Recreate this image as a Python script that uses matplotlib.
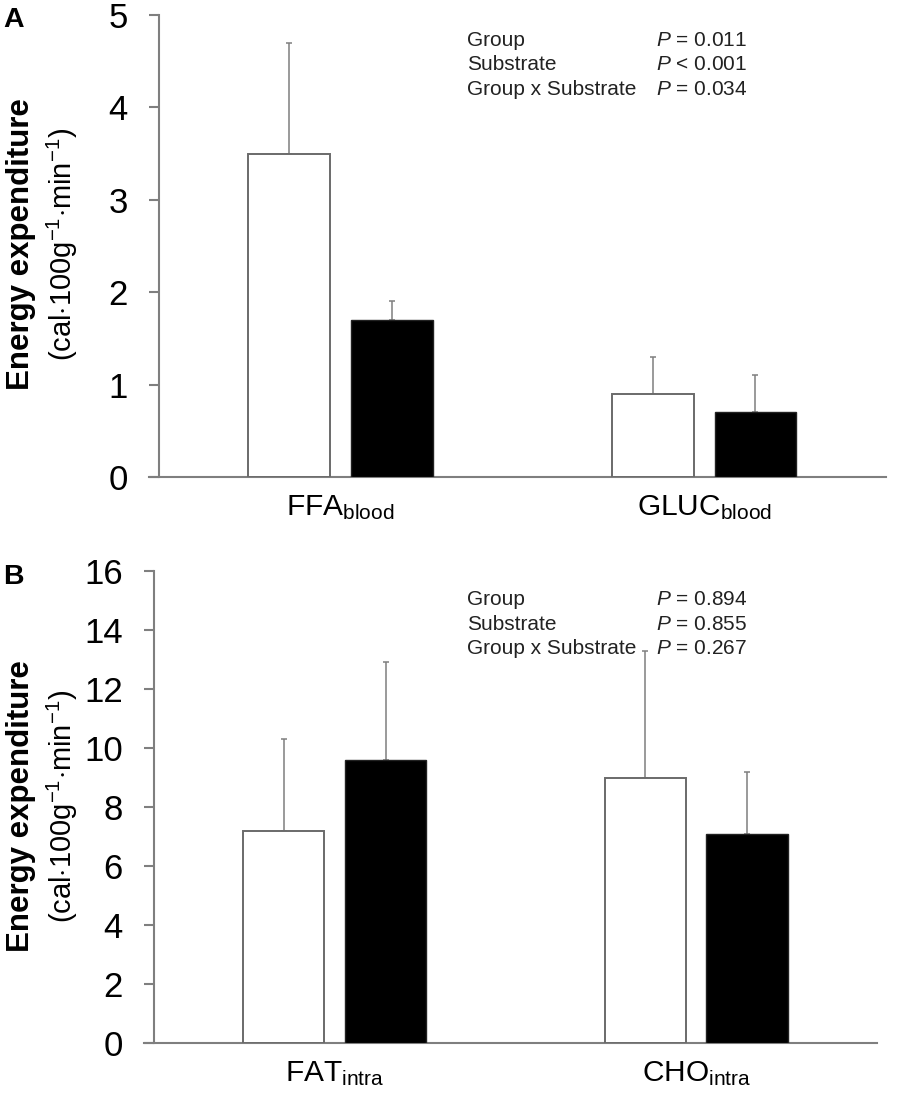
import numpy as np
import matplotlib
matplotlib.use("Agg")
import matplotlib.pyplot as plt

plt.rcParams["font.family"] = ["Liberation Sans", "DejaVu Sans"]
plt.rcParams["mathtext.fontset"] = "custom"
plt.rcParams["mathtext.rm"] = "Liberation Sans"
plt.rcParams["mathtext.it"] = "Liberation Sans:italic"
plt.rcParams["mathtext.bf"] = "Liberation Sans:bold"

# panel A: blood-borne substrates
cats_a = ["FFA", "GLUC"]
sub_a = "blood"
open_a = [3.5, 0.9]
open_err_a = [1.2, 0.4]
filled_a = [1.7, 0.7]
filled_err_a = [0.2, 0.4]
ticks_a = [0, 1, 2, 3, 4, 5]
stats_a = ["$P$ = 0.011", "$P$ < 0.001", "$P$ = 0.034"]

# panel B: intramuscular substrates
cats_b = ["FAT", "CHO"]
sub_b = "intra"
open_b = [7.2, 9.0]
open_err_b = [3.1, 4.3]
filled_b = [9.6, 7.1]
filled_err_b = [3.3, 2.1]
ticks_b = [0, 2, 4, 6, 8, 10, 12, 14, 16]
stats_b = ["$P$ = 0.894", "$P$ = 0.855", "$P$ = 0.267"]

effects = ["Group", "Substrate", "Group x Substrate"]

AX_GRAY = "#7f7f7f"
W, H = 900, 1099


def fx(px):
    return px / W


def fy(py):
    return 1 - py / H


def draw_panel(ax, cats, sub, v1, e1, v2, e2, yticks):
    x = np.arange(len(cats))
    width, off = 0.225, 0.141
    ax.bar(x - off, v1, width, color="white", edgecolor="#6a6a6a", linewidth=1.4, zorder=3)
    ax.bar(x + off, v2, width, color="black", edgecolor="#222222", linewidth=1.0, zorder=3)
    for xs, vals, errs in ((x - off, v1, e1), (x + off, v2, e2)):
        ax.errorbar(xs, vals, yerr=[np.zeros(len(errs)), errs], fmt="none",
                    ecolor=AX_GRAY, elinewidth=1.1, capsize=2.5, capthick=1.1, zorder=2)
    ax.set_xlim(-0.527, 1.5)
    ax.set_ylim(yticks[0], yticks[-1])
    ax.set_yticks(yticks)
    ax.set_xticks(x)
    ax.set_xticklabels([f"{c}$_{{\\mathregular{{{sub}}}}}$" for c in cats], fontsize=21.5)
    for s in ("top", "right"):
        ax.spines[s].set_visible(False)
    ax.spines["left"].set_position(("data", -0.5))
    for s in ("left", "bottom"):
        ax.spines[s].set_color(AX_GRAY)
        ax.spines[s].set_linewidth(1.5)
    ax.tick_params(axis="y", direction="out", length=7.2, width=1.5, color=AX_GRAY,
                   labelsize=25, pad=15)
    ax.tick_params(axis="x", length=0, pad=12)


fig = plt.figure(figsize=(W / 100, H / 100), dpi=100)

ax_a = fig.add_axes([fx(149), fy(477), fx(886 - 149), (477 - 15) / H])
draw_panel(ax_a, cats_a, sub_a, open_a, open_err_a, filled_a, filled_err_a, ticks_a)

ax_b = fig.add_axes([fx(144), fy(1043), fx(877 - 144), (1043 - 571) / H])
draw_panel(ax_b, cats_b, sub_b, open_b, open_err_b, filled_b, filled_err_b, ticks_b)

# y labels and panel letters
for yc, letter, ytop in ((244, "A", 7), (806, "B", 564)):
    fig.text(fx(21), fy(yc), "Energy expenditure", rotation=90, ha="center", va="center",
             fontsize=22.5, fontweight="bold")
    fig.text(fx(62), fy(yc), r"(cal$\cdot$100g$^{\mathregular{-1}}$$\cdot$min$^{\mathregular{-1}}$)",
             rotation=90, ha="center", va="center", fontsize=21)
    fig.text(fx(3), fy(ytop), letter, ha="left", va="top", fontsize=20.5, fontweight="bold")

# statistics text
for base, stats in ((46, stats_a), (605, stats_b)):
    for i, (eff, st) in enumerate(zip(effects, stats)):
        fig.text(fx(467), fy(base + 24.5 * i), eff, ha="left", va="baseline", fontsize=15,
                 color="#222222")
        fig.text(fx(656), fy(base + 24.5 * i), st, ha="left", va="baseline", fontsize=15,
                 color="#222222")

fig.savefig("out.png", dpi=100)
